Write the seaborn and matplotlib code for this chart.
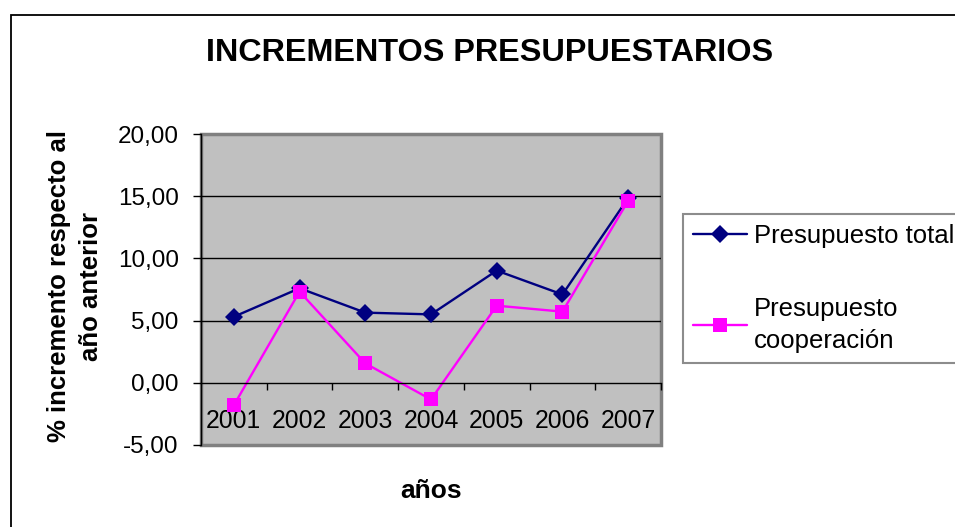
import pandas as pd
import matplotlib.pyplot as plt
import matplotlib.ticker as mticker
from matplotlib.patches import Rectangle
import seaborn as sns

# Chart values
years = ["2001", "2002", "2003", "2004", "2005", "2006", "2007"]
presupuesto_total = [5.31, 7.60, 5.64, 5.50, 9.02, 7.10, 14.85]
presupuesto_coop = [-1.80, 7.33, 1.56, -1.34, 6.20, 5.72, 14.63]
series_names = ["Presupuesto total", "Presupuesto\ncooperación"]
y_ticks = [-5, 0, 5, 10, 15, 20]

df = pd.DataFrame({
    "año": years * 2,
    "valor": presupuesto_total + presupuesto_coop,
    "serie": [series_names[0]] * len(years) + [series_names[1]] * len(years),
})

sns.set_style("white")
plt.rcParams["font.family"] = ["Liberation Sans", "DejaVu Sans"]
for k in ["text.color", "axes.labelcolor", "xtick.color", "ytick.color"]:
    plt.rcParams[k] = "black"

fig = plt.figure(figsize=(9.55, 5.27), dpi=100)
ax = fig.add_axes([201 / 955, 1 - 445 / 527, 460 / 955, 311 / 527])

# outer chart border (cut by the right and bottom edges of the image)
fig.add_artist(Rectangle((11 / 955, -0.2), 1.5, 1.2 - 15 / 527, transform=fig.transFigure,
                         fill=False, edgecolor="black", linewidth=1.3, clip_on=False))

ax.set_facecolor("#C0C0C0")
ax.patch.set_edgecolor("#808080")
ax.patch.set_linewidth(2.5)

sns.lineplot(data=df, x="año", y="valor", hue="serie", style="serie",
             palette={series_names[0]: "#000080", series_names[1]: "#FF00FF"},
             markers={series_names[0]: "D", series_names[1]: "s"},
             dashes=False, linewidth=1.7, markersize=9, markeredgewidth=0,
             ax=ax, sort=False)

# marker sizes per series
for ln in ax.get_lines():
    if ln.get_marker() == "D":
        ln.set_markersize(9)
    elif ln.get_marker() == "s":
        ln.set_markersize(9.5)

ax.set_xlim(-0.5, len(years) - 0.5)
ax.set_ylim(-5, 20)
ax.set_yticks(y_ticks)
ax.yaxis.set_major_formatter(mticker.FuncFormatter(lambda v, p: f"{v:.2f}".replace(".", ",")))
for v in y_ticks[2:-1]:
    ax.axhline(v, color="black", linewidth=1, zorder=0.5)

for s in ["top", "right"]:
    ax.spines[s].set_visible(False)
ax.spines["left"].set_color("black")
ax.spines["left"].set_linewidth(1)
ax.spines["bottom"].set_position(("data", 0))
ax.spines["bottom"].set_color("black")
ax.spines["bottom"].set_linewidth(1)

ax.tick_params(axis="y", which="major", direction="out", length=6, width=1,
               color="black", labelsize=17.5, pad=10, left=True)
ax.tick_params(axis="x", which="major", length=0, labelsize=17.8, pad=19)
ax.set_xticks(range(len(years)))
ax.set_xticklabels(years)
ax.xaxis.set_minor_locator(mticker.FixedLocator([i + 0.5 for i in range(len(years))]))
ax.tick_params(axis="x", which="minor", direction="out", length=5, width=1,
               color="black", bottom=True)

ax.set_xlabel("años", fontsize=19, fontweight="bold")
ax.xaxis.set_label_coords(0.5, -0.108)
ax.xaxis.label.set_va("top")
ax.set_ylabel("% incremento respecto al\naño anterior", fontsize=18.5,
              fontweight="bold", linespacing=1.4)
ax.yaxis.set_label_coords(-0.214, 0.51)

fig.text(490 / 955, 1 - 53 / 527, "INCREMENTOS PRESUPUESTARIOS", ha="center", va="center",
         fontsize=23.3, fontweight="bold")

leg = ax.legend(loc="upper left", bbox_to_anchor=(683 / 955, 1 - 214 / 527),
                bbox_transform=fig.transFigure, fontsize=18.5, frameon=True,
                fancybox=False, borderaxespad=0, borderpad=0.4, labelspacing=1.9,
                handlelength=2.1, handletextpad=0.25, title=None)
leg.get_frame().set_edgecolor("#707070")
leg.get_frame().set_linewidth(1.5)
leg.get_texts()[1].set_linespacing(1.4)
for h in leg.legend_handles:
    h.set_linewidth(1.7)

fig.savefig("out.png", dpi=100)
